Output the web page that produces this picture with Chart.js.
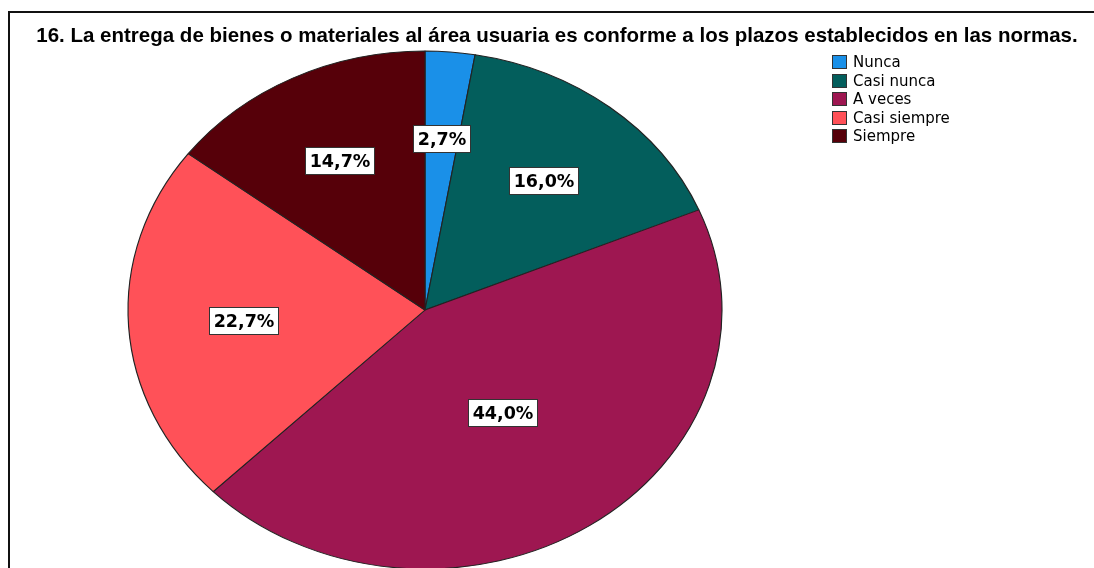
<!DOCTYPE html>
<html><head><meta charset="utf-8">
<script src="https://cdn.jsdelivr.net/npm/chart.js@4.4.1/dist/chart.umd.min.js"></script>
<style>
html,body{margin:0;padding:0;background:#fff;}
#wrap{position:relative;width:1094px;height:568px;overflow:hidden;background:#fff;}
#c{position:absolute;left:0;top:0;}
#frame{position:absolute;left:8px;top:11px;width:1200px;height:700px;border-top:2px solid #111;border-left:2px solid #111;pointer-events:none;}
#title{position:absolute;left:0;top:23px;width:1114px;text-align:center;font:bold 20.5px "Liberation Sans",Arial,sans-serif;line-height:24px;color:#000;white-space:nowrap;}
#legend{position:absolute;left:832px;top:53px;font:15px "DejaVu Sans",sans-serif;color:#000;}
.item{height:18.5px;display:flex;align-items:center;white-space:nowrap;}
.sw{width:13px;height:12px;border:1px solid #333;margin-right:6px;box-sizing:content-box;}
</style>
</head><body>
<div id="wrap">
<canvas id="c" width="1094" height="568"></canvas>
<div id="frame"></div>
<div id="title">16. La entrega de bienes o materiales al área usuaria es conforme a los plazos establecidos en las normas.</div>
<div id="legend"></div>
</div>
<script>
const categories = ['Nunca', 'Casi nunca', 'A veces', 'Casi siempre', 'Siempre'];
const percentages = [2.7, 16.0, 44.0, 22.7, 14.7];
const sliceColors = ['#1a90e8', '#035e5c', '#9e1751', '#ff5158', '#560009'];

const legendEl = document.getElementById('legend');
categories.forEach((name, i) => {
  const row = document.createElement('div');
  row.className = 'item';
  const sw = document.createElement('span');
  sw.className = 'sw';
  sw.style.background = sliceColors[i];
  const tx = document.createElement('span');
  tx.textContent = name;
  row.appendChild(sw); row.appendChild(tx);
  legendEl.appendChild(row);
});

const SX = 297 / 259;      // horizontal stretch making the pie elliptical

const ellipsePlugin = {
  id: 'ellipse',
  beforeDatasetsDraw(chart) {
    const arc = chart.getDatasetMeta(0).data[0];
    const ctx = chart.ctx;
    ctx.save();
    ctx.translate(arc.x, 0);
    ctx.scale(SX, 1);
    ctx.translate(-arc.x, 0);
  },
  afterDatasetsDraw(chart) {
    const ctx = chart.ctx;
    ctx.restore();
    const meta = chart.getDatasetMeta(0);
    const vals = chart.data.datasets[0].data;
    ctx.save();
    ctx.font = 'bold 17.5px "DejaVu Sans", sans-serif';
    ctx.textAlign = 'center';
    ctx.textBaseline = 'middle';
    meta.data.forEach((arc, i) => {
      const p = arc.getProps(['x', 'y', 'startAngle', 'endAngle', 'outerRadius'], true);
      const mid = (p.startAngle + p.endAngle) / 2;
      const half = (p.endAngle - p.startAngle) / 2;
      // sector centroid distance
      const r = p.outerRadius * 2 * Math.sin(half) / (3 * half);
      const cx = p.x + Math.cos(mid) * r * SX;
      const cy = p.y + Math.sin(mid) * r;
      const txt = vals[i].toFixed(1).replace('.', ',') + '%';
      const w = Math.round(ctx.measureText(txt).width + 8);
      const h = 27;
      const bx = Math.round(cx - w / 2) + 0.5, by = Math.round(cy - h / 2) + 0.5;
      ctx.fillStyle = '#fff';
      ctx.fillRect(bx, by, w, h);
      ctx.strokeStyle = '#333';
      ctx.lineWidth = 1;
      ctx.strokeRect(bx, by, w, h);
      ctx.fillStyle = '#000';
      ctx.fillText(txt, bx + w / 2, by + h / 2 + 1);
    });
    ctx.restore();
  }
};

new Chart(document.getElementById('c'), {
  type: 'pie',
  data: {
    labels: categories,
    datasets: [{
      data: percentages,
      backgroundColor: sliceColors,
      borderColor: '#222',
      borderWidth: 1,
      hoverOffset: 0
    }]
  },
  options: {
    responsive: false,
    devicePixelRatio: 1,
    animation: false,
    radius: 259,
    layout: { padding: { left: 0, right: 244, top: 52, bottom: 0 } },
    plugins: {
      legend: { display: false },
      title: { display: false },
      tooltip: { enabled: false }
    },
    events: []
  },
  plugins: [ellipsePlugin]
});
</script>
</body></html>
